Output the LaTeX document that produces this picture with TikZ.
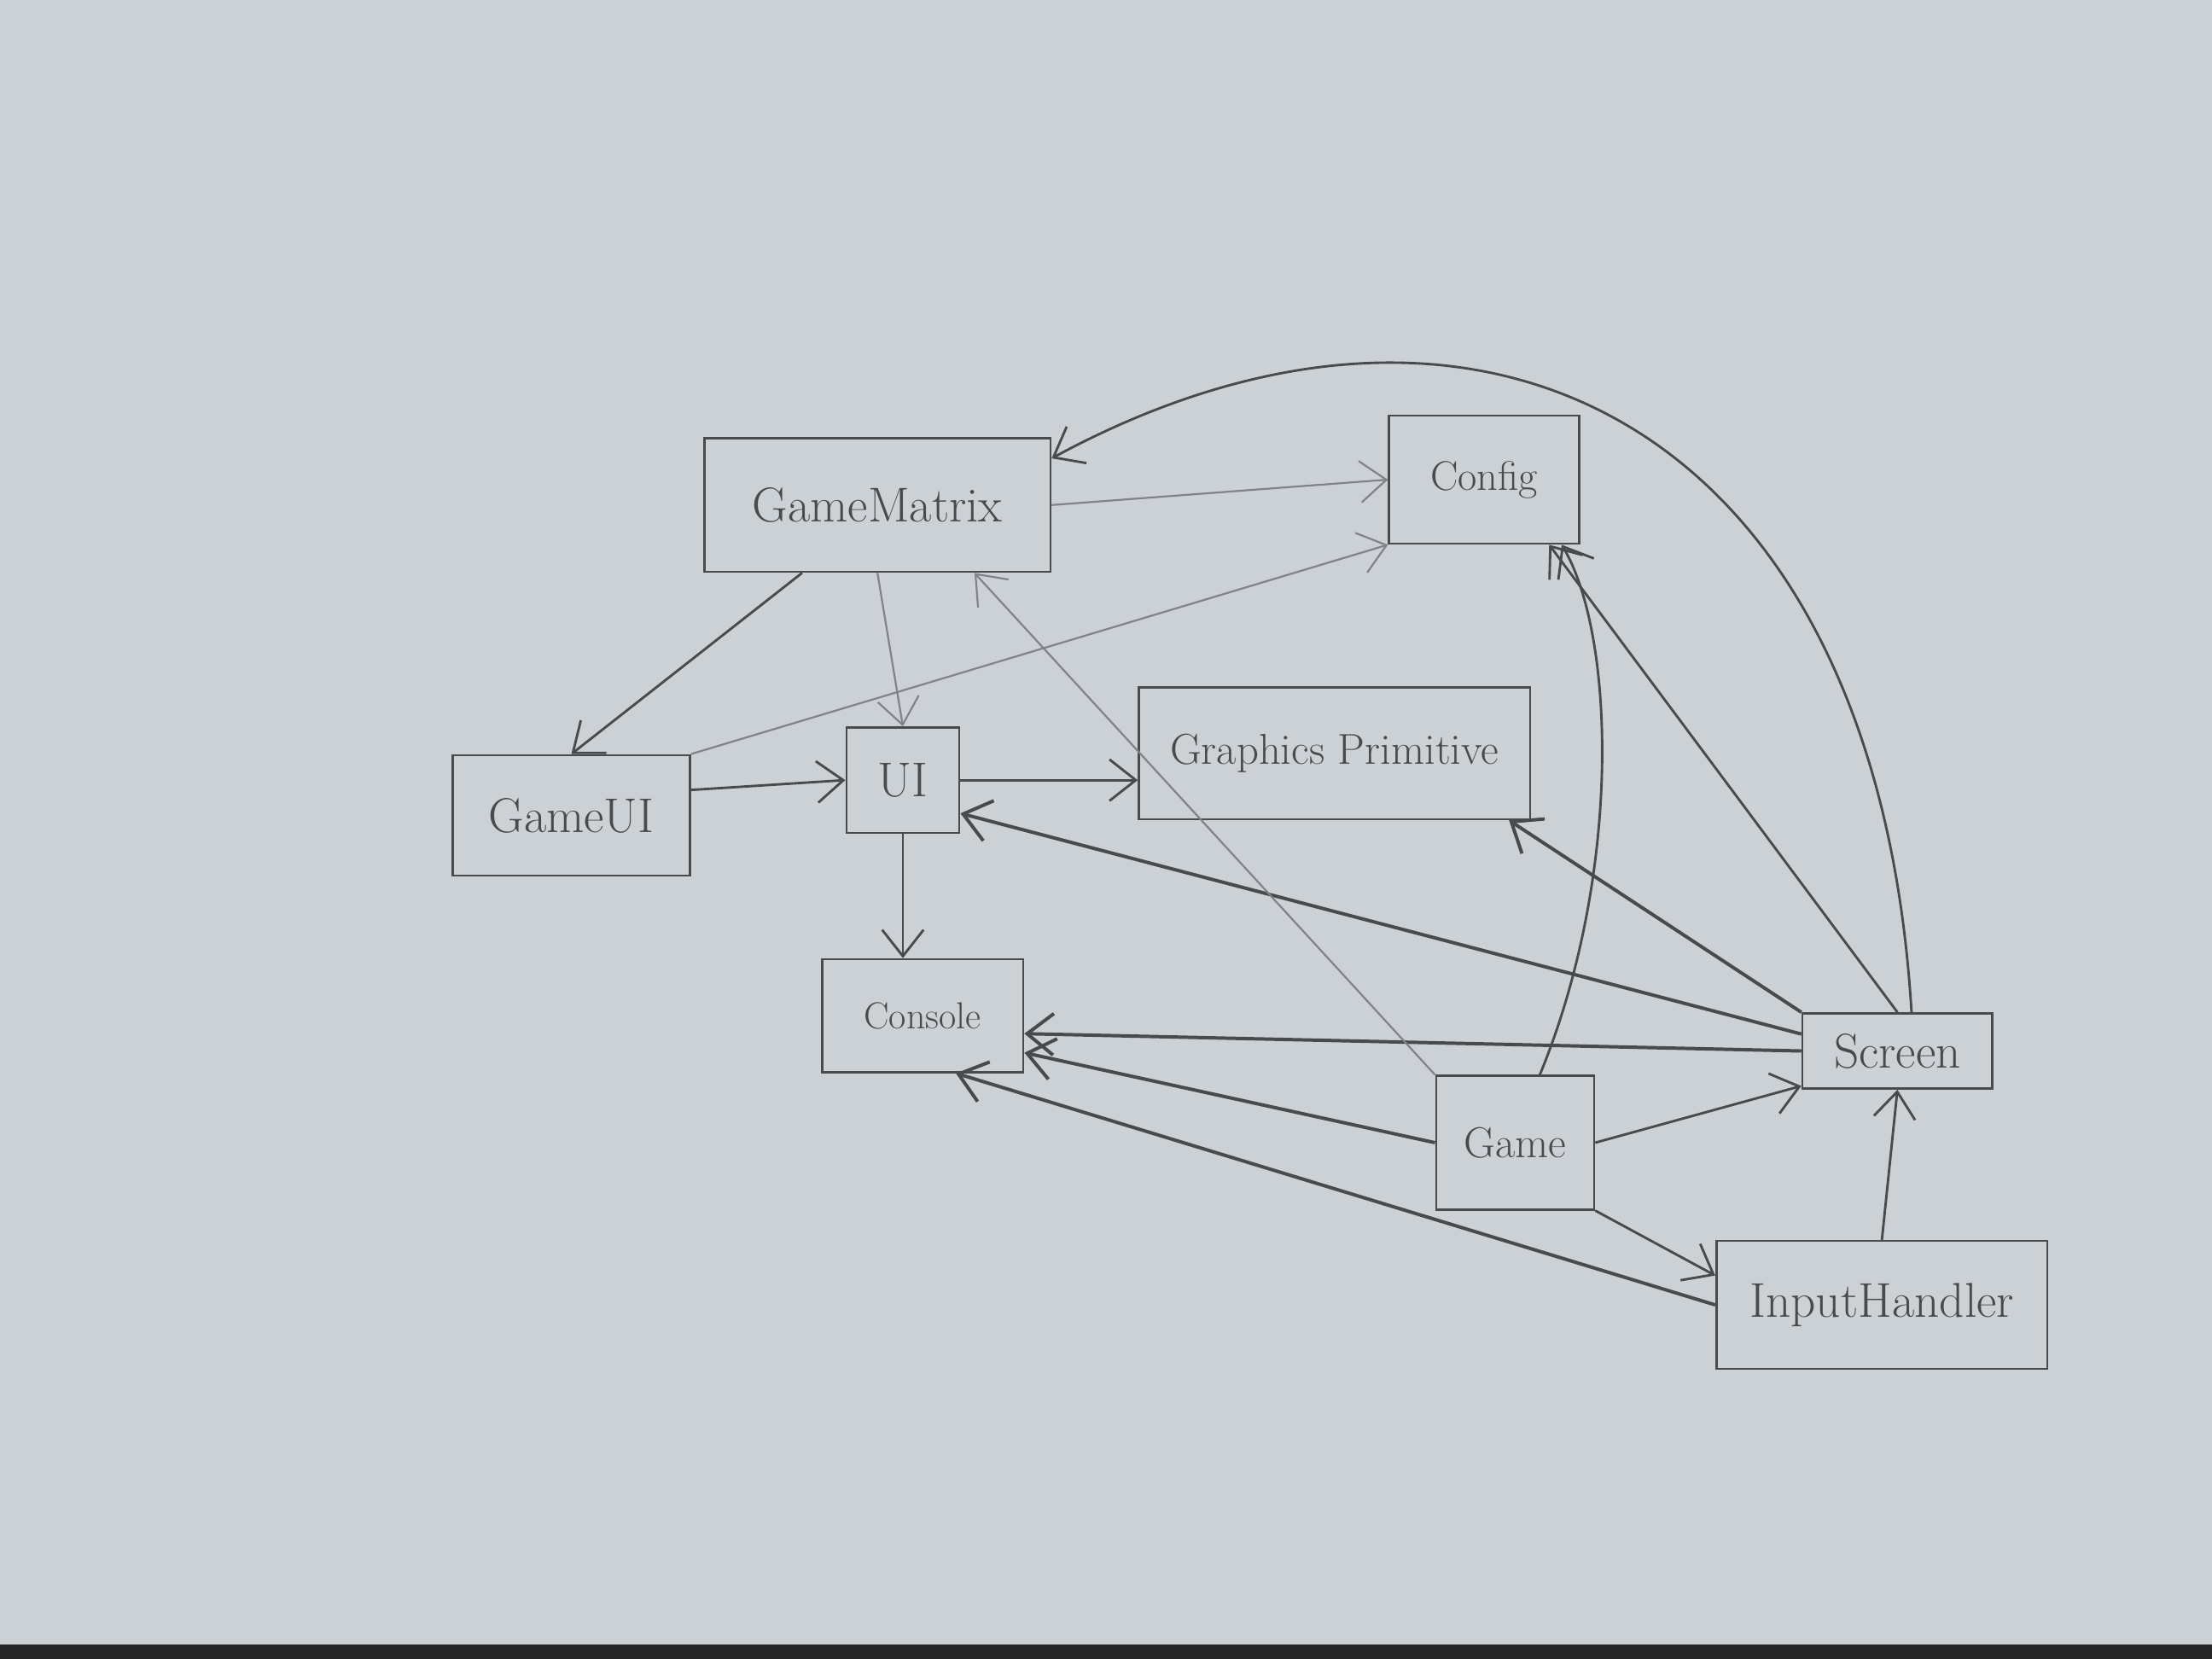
\documentclass[tikz,border=0pt]{standalone}
\usepackage{tikz}
\usetikzlibrary{arrows.meta}
\definecolor{paper}{RGB}{204,209,213}
\definecolor{pencil}{RGB}{72,74,78}
\definecolor{lightpencil}{RGB}{128,131,135}

\tikzset{
  box/.style={draw=pencil, line width=1.2pt, text=pencil, inner sep=0pt, font=\fontsize{26}{28}\selectfont},
  link/.style={draw=pencil, line width=1.3pt, -{Straight Barb[length=14pt,width=22pt]}},
  faint/.style={link, draw=lightpencil, line width=1pt},
  heavy/.style={link, line width=1.8pt},
}

\begin{document}
\begin{tikzpicture}[x=0.75pt,y=0.75pt,yscale=-1]
%paper
\fill[paper] (0,0) rectangle (1568,1176);
\fill[black!85] (0,1166) rectangle (1568,1176);
\useasboundingbox (0,0) rectangle (1568,1176);

% Boxes
\node[box, minimum width=184pt, minimum height=71pt] (gm) at (622,358) {GameMatrix};
\node[box, minimum width=101pt, minimum height=68pt, font=\fontsize{22}{24}\selectfont] (cfg) at (1052,340) {Config};
\node[box, minimum width=126pt, minimum height=64pt] (gui) at (405,578) {GameUI};
\node[box, minimum width=60pt, minimum height=56pt] (ui) at (640,553) {UI};
\node[box, minimum width=208pt, minimum height=70pt, font=\fontsize{23}{25}\selectfont] (gp) at (946,534) {Graphics Primitive};
\node[box, minimum width=107pt, minimum height=60pt, font=\fontsize{20}{22}\selectfont] (con) at (654,720) {Console};
\node[box, minimum width=101pt, minimum height=40pt] (scr) at (1345,745) {Screen};
\node[box, minimum width=84pt, minimum height=71pt, font=\fontsize{23}{25}\selectfont] (game) at (1074,810) {Game};
\node[box, minimum width=176pt, minimum height=68pt] (ih) at (1334,925) {InputHandler};

% GameMatrix
\draw[faint] (gm.east) -- (cfg.west);
\draw[link] (gm.-138) -- (gui.north);
\draw[faint] (gm.south) -- (ui.north);

% GameUI and UI
\draw[link] (gui.12) -- (ui.west);
\draw[faint] (gui.north east) -- (cfg.south west);
\draw[link] (ui.east) -- (ui.east -| gp.west);
\draw[link] (ui.south) -- (ui.south |- con.north);

% Screen
\draw[link] (scr.70) .. controls (1330,300) and (1050,160) .. (gm.15);
\draw[link] (scr.north) -- (cfg.-45);
\draw[heavy] (scr.north west) -- (gp.-21);
\draw[heavy] (scr.170) -- (ui.-30);
\draw[heavy] (scr.west) -- (con.-10);

% Game
\draw[link] (game.70) .. controls (1150,620) and (1145,450) .. (cfg.-40);
\draw[faint] (game.north west) -- (gm.-35);
\draw[heavy] (game.west) -- (con.-20);
\draw[link] (game.east) -- (scr.200);
\draw[link] (game.south east) -- (ih.170);

% InputHandler
\draw[link] (ih.north) -- (scr.south);
\draw[heavy] (ih.west) -- (con.-60);

\end{tikzpicture}
\end{document}
